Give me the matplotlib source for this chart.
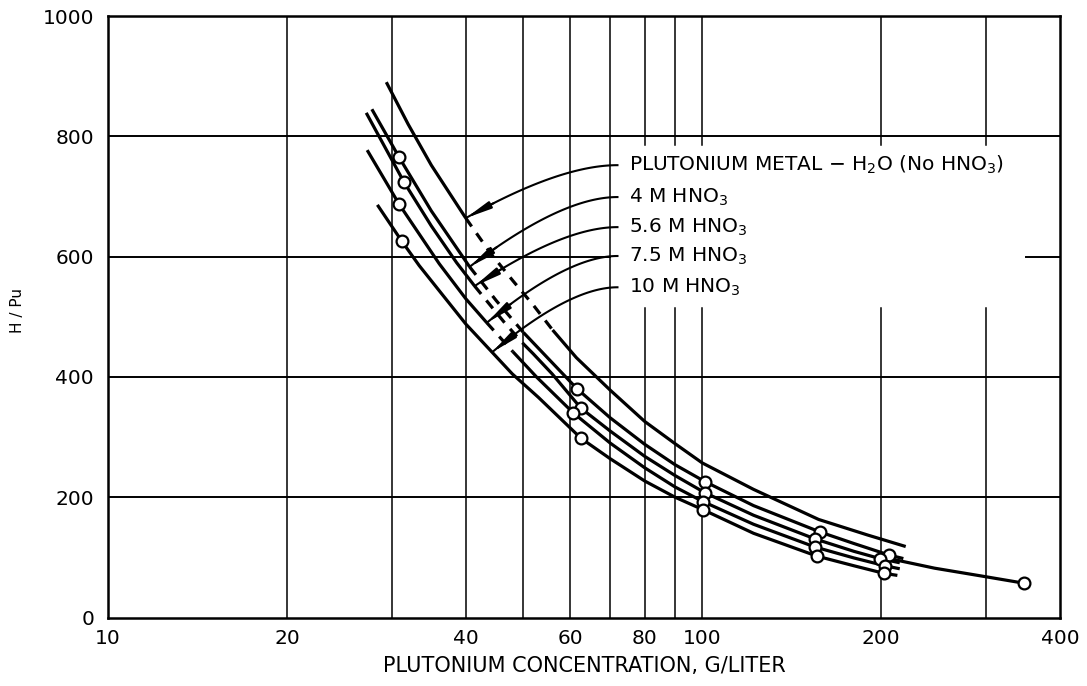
import numpy as np
import matplotlib
matplotlib.use("Agg")
import matplotlib.pyplot as plt

# H/Pu against Pu concentration (g/liter)
METAL_X = [29.4, 32, 35, 40, 44, 48, 52, 56, 61.4, 70, 80, 90, 100, 122, 157, 190, 220]
METAL_Y = [890, 820, 752, 664, 606, 560, 519, 478, 432, 378, 326, 289, 257, 213, 163, 137, 118]
TAIL_X = [211, 246, 295, 348]
TAIL_Y = [96, 82, 69, 57]

M4_X = [27.8, 30.9, 35, 40.6, 45, 50, 55, 61.6, 70, 80, 90, 101, 122, 158, 180, 206, 218]
M4_Y = [845, 765, 676, 583, 527, 474, 431, 380, 332, 288, 254, 226, 186, 142, 123, 104, 98]
M56_X = [27.2, 31.5, 35, 38.6, 41.4, 46.5, 50, 52, 55.9, 62.5, 70, 80, 90, 101, 122, 155, 180, 199, 215]
M56_Y = [839, 723.5, 651, 590, 551, 490, 455, 438, 405, 348, 310, 268, 236, 207.5, 170, 130.5, 110, 98, 91]
M75_X = [27.3, 30.9, 36.1, 40, 43.4, 48, 52.6, 60.7, 70, 80, 90, 100.4, 122, 155, 180, 203, 215]
M75_Y = [777, 687, 588, 530, 490, 442, 400, 340, 290, 249, 217, 192.5, 155, 117, 99, 86, 81]
M10_X = [28.4, 31.2, 33.4, 40, 44.3, 47.9, 53, 62.5, 70, 80, 90, 100.4, 122, 156, 180, 202, 213]
M10_Y = [686, 626, 585, 488, 441, 405, 366, 298, 264, 227, 200, 179, 140, 102, 86, 73.5, 70]

# measured points (open circles)
PTS_X = [30.9, 61.6, 101, 158, 206,
         31.5, 62.5, 101, 155, 199,
         30.9, 60.7, 100.4, 155, 203,
         31.2, 62.5, 100.4, 156, 202,
         348]
PTS_Y = [765, 380, 226, 142, 104,
         723.5, 348, 207.5, 130.5, 98,
         687, 340, 192.5, 117, 86,
         626, 298, 179, 102, 73.5,
         57]

LABELS = [r"PLUTONIUM METAL $-$ H$_2$O (No HNO$_3$)",
          r"4 M HNO$_3$", r"5.6 M HNO$_3$", r"7.5 M HNO$_3$", r"10 M HNO$_3$"]
LABEL_Y = [752, 699, 649, 601, 549]
CURVES = [(METAL_X, METAL_Y), (M4_X, M4_Y), (M56_X, M56_Y), (M75_X, M75_Y), (M10_X, M10_Y)]
# broken (dashed) stretch of each curve; its leader lands at the start
GAPS = [(40, 56), (40.6, 50), (41.4, 50), (43.4, 48), (44.3, 44.3)]

X_TICKS = [10, 20, 40, 60, 80, 100, 200, 400]
Y_TICKS = [0, 200, 400, 600, 800, 1000]
V_GRID = [20, 30, 40, 50, 60, 70, 80, 90, 100, 200, 300]
H_GRID = [200, 400, 600, 800]

LW = 2.3
FS = 14.5


def draw_curve(ax, xs, ys, gap):
    xs, ys = np.asarray(xs), np.asarray(ys)
    a, b = gap
    parts = [(xs <= a, "-"), (xs >= b, "-")]
    if b > a:
        parts.append(((xs >= a) & (xs <= b), (0, (3.2, 2.6))))
    for m, ls in parts:
        ax.plot(xs[m], ys[m], color="black", lw=LW, ls=ls, solid_capstyle="butt",
                dash_capstyle="butt", solid_joinstyle="round", zorder=3)


def leader(ax, tip, end):
    # quadratic bezier in (log x, y), flat where it meets the label
    p0 = np.array([np.log10(tip[0]), tip[1]])
    p2 = np.array([np.log10(end[0]), end[1]])
    p1 = np.array([p0[0] + 0.62 * (p2[0] - p0[0]), p2[1]])
    t = np.linspace(0, 1, 60)[:, None]
    pts = (1 - t) ** 2 * p0 + 2 * (1 - t) * t * p1 + t ** 2 * p2
    ax.plot(10 ** pts[:, 0], pts[:, 1], color="black", lw=1.5, zorder=4)
    k = 9
    ax.annotate("", xy=(10 ** pts[0, 0], pts[0, 1]), xytext=(10 ** pts[k, 0], pts[k, 1]),
                arrowprops=dict(arrowstyle="-|>,head_length=1.5,head_width=0.22",
                                color="black", lw=1.5, shrinkA=0, shrinkB=0), zorder=4)


def main():
    fig = plt.figure(figsize=(10.87, 6.86), dpi=100)
    ax = fig.add_axes([108 / 1087, 1 - 617.5 / 686, 952 / 1087, 601.5 / 686])
    ax.set_xscale("log")
    ax.set_xlim(10, 400)
    ax.set_ylim(0, 1000)

    # grid, with the label block left clear
    for x in V_GRID:
        if x >= 80:
            ax.plot([x, x], [0, 514], color="black", lw=1.1, zorder=1)
            ax.plot([x, x], [786, 1000], color="black", lw=1.1, zorder=1)
        else:
            ax.plot([x, x], [0, 1000], color="black", lw=1.1, zorder=1)
    for y in H_GRID:
        if y == 600:
            ax.plot([10, 70], [y, y], color="black", lw=1.4, zorder=1)
            ax.plot([350, 400], [y, y], color="black", lw=1.4, zorder=1)
        else:
            ax.plot([10, 400], [y, y], color="black", lw=1.4, zorder=1)

    for (xs, ys), gap in zip(CURVES, GAPS):
        draw_curve(ax, xs, ys, gap)
    ax.plot(TAIL_X, TAIL_Y, color="black", lw=LW, zorder=3)
    ax.plot(PTS_X, PTS_Y, ls="none", marker="o", ms=8.5, mfc="white", mec="black",
            mew=1.6, zorder=5)

    for (xs, ys), gap, lab, ly in zip(CURVES, GAPS, LABELS, LABEL_Y):
        tip_y = np.interp(np.log10(gap[0]), np.log10(xs), ys)
        leader(ax, (gap[0], tip_y), (72, ly))
        ax.text(75.2, ly, lab, fontsize=FS, ha="left", va="center", zorder=6)

    ax.set_xticks(X_TICKS)
    ax.set_xticklabels([str(v) for v in X_TICKS])
    ax.xaxis.set_minor_locator(matplotlib.ticker.NullLocator())
    ax.set_yticks(Y_TICKS)
    ax.tick_params(length=0, labelsize=FS)
    ax.tick_params(axis="y", pad=10)
    ax.tick_params(axis="x", pad=8)
    for s in ax.spines.values():
        s.set_linewidth(1.8)

    ax.set_xlabel("PLUTONIUM CONCENTRATION, G/LITER", fontsize=15, labelpad=6)
    ax.set_ylabel("H / Pu", fontsize=11)
    ax.yaxis.set_label_coords(-0.087, 0.51)

    fig.savefig("out.png", dpi=100)


if __name__ == "__main__":
    main()
